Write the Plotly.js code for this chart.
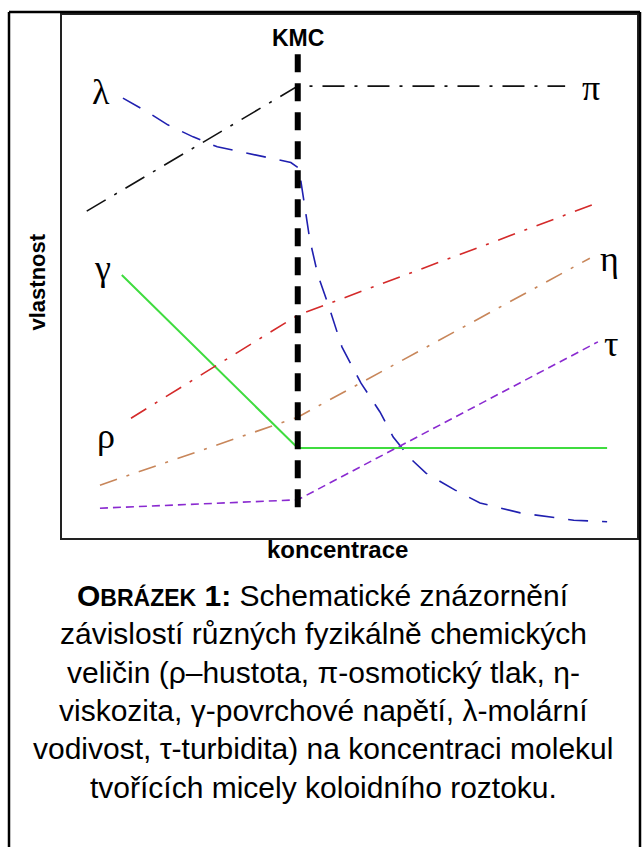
<!DOCTYPE html>
<html>
<head>
<meta charset="utf-8">
<script src="https://cdn.plot.ly/plotly-3.0.1.min.js"></script>
<style>
html,body{margin:0;padding:0;background:#fff;}
#chart{width:642px;height:847px;}
</style>
</head>
<body>
<div id="chart"></div>
<script>
// Schematic values (arbitrary units, 0-100 scale)
const kmcX = 41.0;
const kmcY = [5.9, 93.3];

const piX = [4.3, 41.0, 87.5];
const piY = [62.5, 86.4, 86.4];

const lambdaX = [10.6, 14.8, 18.4, 22.8, 27.0, 31.3, 35.5, 39.8, 41.2, 41.9, 43.1, 44.5, 46.3, 48.7, 52.0, 55.3, 57.6, 60.5, 63.3, 68.3, 72.7, 79.7, 89.0, 94.8];
const lambdaY = [84.1, 81.5, 79.0, 76.7, 74.8, 73.8, 72.8, 71.8, 70.7, 65.6, 57.0, 50.3, 44.6, 36.5, 29.6, 24.1, 19.3, 15.3, 12.4, 9.2, 6.7, 4.8, 3.4, 3.1];

const gammaX = [10.4, 41.0, 94.8];
const gammaY = [50.3, 17.2, 17.2];

const rhoX = [12.0, 41.0, 93.2];
const rhoY = [22.9, 42.6, 64.1];

const etaX = [6.6, 41.0, 91.8];
const etaY = [10.1, 23.1, 53.5];

const tauX = [6.6, 41.0, 93.2];
const tauY = [5.7, 7.3, 37.5];

// Curve labels
const labelText = ['λ', 'π', 'γ', 'ρ', 'η', 'τ'];
const labelX = [6.8, 92.0, 7.1, 7.6, 95.3, 95.5];
const labelY = [85.2, 86.0, 51.7, 19.5, 53.4, 37.1];

const captionLines = [
  '<b>O<span style="font-size:23px">BRÁZEK</span> 1:</b> Schematické znázornění',
  'závislostí různých fyzikálně chemických',
  'veličin (ρ–hustota, π-osmotický tlak, η-',
  'viskozita, γ-povrchové napětí, λ-molární',
  'vodivost, τ-turbidita) na koncentraci molekul',
  'tvořících micely koloidního roztoku.'
];
const captionPx = [614, 652, 691, 729, 767, 806];

const traces = [
  {x: piX, y: piY, mode: 'lines', line: {color: '#111111', width: 1.6, dash: '22px,10px,3px,10px'}},
  {x: lambdaX, y: lambdaY, mode: 'lines', line: {color: '#2020b0', width: 1.6, dash: '20px,14px'}},
  {x: gammaX, y: gammaY, mode: 'lines', line: {color: '#3fdc3f', width: 2}},
  {x: rhoX, y: rhoY, mode: 'lines', line: {color: '#d42a2a', width: 1.6, dash: '18px,10px,3px,10px'}},
  {x: etaX, y: etaY, mode: 'lines', line: {color: '#c8865a', width: 1.6, dash: '18px,10px,3px,10px'}},
  {x: tauX, y: tauY, mode: 'lines', line: {color: '#8a2ad0', width: 1.6, dash: '8px,5px'}},
  {x: [kmcX, kmcX], y: kmcY, mode: 'lines', line: {color: '#000000', width: 6, dash: '18px,11px'}}
];

// pixel -> paper helpers for annotations outside plot area
const L = 62, R = 637, T = 15, B = 538;
const px2paperX = p => (p - L) / (R - L);
const px2paperY = p => (B - p) / (B - T);

const annotations = [];
for (let i = 0; i < labelText.length; i++) {
  annotations.push({x: labelX[i], y: labelY[i], xref: 'x', yref: 'y', text: labelText[i], showarrow: false,
    font: {family: '"Times New Roman", "Liberation Serif", serif', size: 36, color: '#000'}});
}
annotations.push({x: kmcX, y: px2paperY(23), xref: 'x', yref: 'paper', text: '<b>KMC</b>', showarrow: false,
  font: {family: 'Arial, "Liberation Sans", sans-serif', size: 23, color: '#000'}});
annotations.push({x: px2paperX(337), y: px2paperY(565), xref: 'paper', yref: 'paper', text: '<b>koncentrace</b>', showarrow: false,
  font: {family: 'Arial, "Liberation Sans", sans-serif', size: 24, color: '#000'}});
annotations.push({x: px2paperX(22), y: px2paperY(282), xref: 'paper', yref: 'paper', text: '<b>vlastnost</b>', showarrow: false, textangle: -90,
  font: {family: 'Arial, "Liberation Sans", sans-serif', size: 22, color: '#000'}});
for (let i = 0; i < captionLines.length; i++) {
  annotations.push({x: px2paperX(323), y: px2paperY(captionPx[i]), xref: 'paper', yref: 'paper', text: captionLines[i], showarrow: false,
    font: {family: 'Arial, "Liberation Sans", sans-serif', size: 30, color: '#000'}});
}

const layout = {
  width: 642, height: 847,
  margin: {l: L, r: 642 - R, t: T, b: 847 - B},
  paper_bgcolor: '#ffffff', plot_bgcolor: '#ffffff',
  showlegend: false,
  xaxis: {range: [0, 100], showgrid: false, zeroline: false, showticklabels: false, ticks: '',
    showline: true, mirror: true, linecolor: '#222', linewidth: 2},
  yaxis: {range: [0, 100], showgrid: false, zeroline: false, showticklabels: false, ticks: '',
    showline: true, mirror: true, linecolor: '#222', linewidth: 2},
  annotations: annotations,
  shapes: [
    {type: 'line', xref: 'paper', yref: 'paper', x0: px2paperX(9), x1: px2paperX(9), y0: px2paperY(12), y1: px2paperY(860), line: {color: '#000', width: 2.5}},
    {type: 'line', xref: 'paper', yref: 'paper', x0: px2paperX(9), x1: px2paperX(640), y0: px2paperY(12), y1: px2paperY(12), line: {color: '#000', width: 2.5}},
    {type: 'line', xref: 'paper', yref: 'paper', x0: px2paperX(640), x1: px2paperX(640), y0: px2paperY(12), y1: px2paperY(860), line: {color: '#000', width: 2.5}}
  ]
};

Plotly.newPlot('chart', traces, layout, {staticPlot: true, displayModeBar: false});
</script>
</body>
</html>
